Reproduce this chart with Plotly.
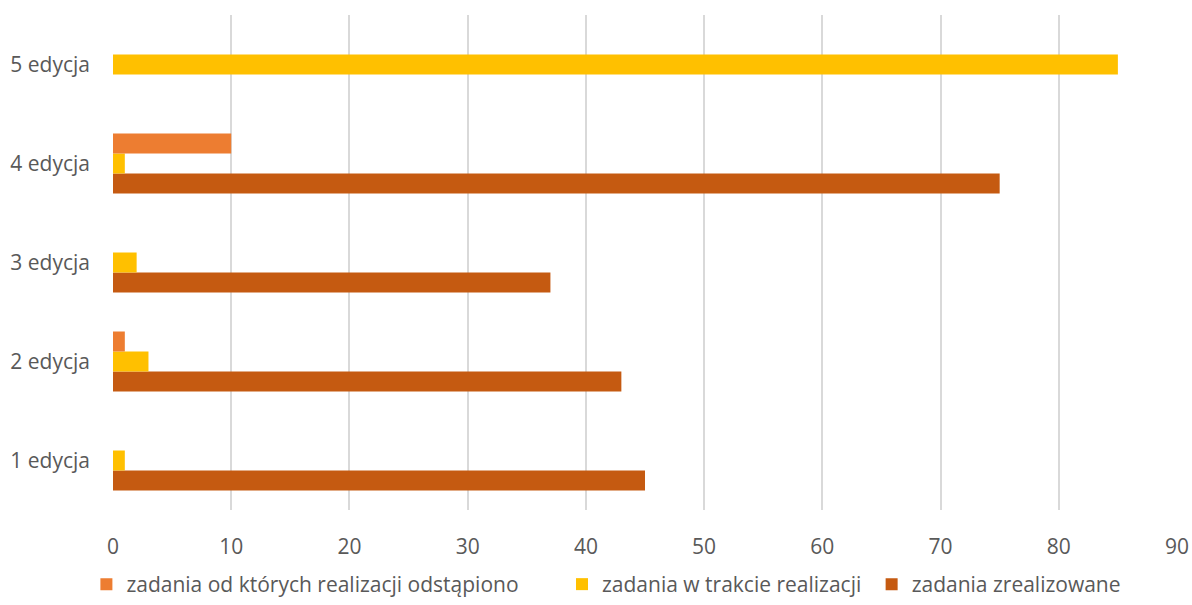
import plotly.graph_objects as go

categories = ["1 edycja", "2 edycja", "3 edycja", "4 edycja", "5 edycja"]
odstapiono = [0, 1, 0, 10, 0]
w_trakcie = [1, 3, 2, 1, 85]
zrealizowane = [45, 43, 37, 75, 0]

names = ["zadania od których realizacji odstąpiono", "zadania w trakcie realizacji", "zadania zrealizowane"]
colors = ["#ED7D31", "#FFC000", "#C55A11"]
FONT = "Open Sans"

fig = go.Figure()
# plotly places horizontal group members bottom-up: add bottom series first
series = [(zrealizowane, 2, "legend3"), (w_trakcie, 1, "legend2"), (odstapiono, 0, "legend")]
for vals, idx, lg in series:
    fig.add_trace(go.Bar(
        y=categories, x=vals, orientation="h", name=names[idx],
        marker=dict(color=colors[idx], line=dict(width=0)),
        legend=lg, showlegend=True,
    ))

legend_common = dict(orientation="h", yanchor="bottom", y=-0.1919, xanchor="left",
                     font=dict(family=FONT, size=21, color="#595959"),
                     bgcolor="rgba(0,0,0,0)", itemwidth=30, visible=True)
fig.update_layout(
    width=1192, height=605,
    margin=dict(l=113, r=15, t=15, b=95, autoexpand=False),
    paper_bgcolor="white", plot_bgcolor="white",
    barmode="group", bargap=0.394, bargroupgap=0,
    showlegend=True,
    legend=dict(x=-0.025, **legend_common),
    legend2=dict(x=0.422, **legend_common),
    legend3=dict(x=0.713, **legend_common),
    xaxis=dict(range=[0, 90], dtick=10, showgrid=True, gridcolor="#D9D9D9", gridwidth=1.5,
               zeroline=False, showline=False, ticks="", ticklabelstandoff=22,
               tickfont=dict(family=FONT, size=21, color="#595959")),
    yaxis=dict(showgrid=False, zeroline=False, showline=False, ticks="", ticklabelstandoff=22,
               tickfont=dict(family=FONT, size=21, color="#595959")),
)
fig.write_html(
    "out.html",
    config={"displayModeBar": False},
    post_script="document.body.style.margin='0';document.body.style.overflow='hidden';",
)
